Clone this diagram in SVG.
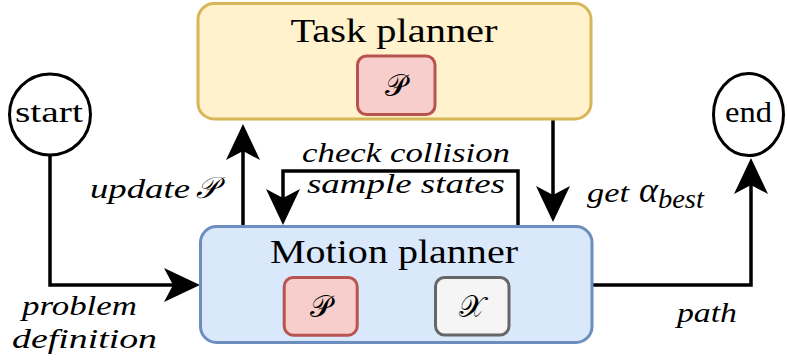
<svg xmlns="http://www.w3.org/2000/svg" width="787" height="360" viewBox="0 0 787 360">
  <style>
    .title { font-size: 34px; fill: #000; text-anchor: middle; }
    .term { font-size: 30px; fill: #000; text-anchor: middle; }
    .lbl { font-style: italic; font-size: 27px; fill: #000; }
    .sym { font-size: 30px; fill: #000; text-anchor: middle; }
    .wire { fill: none; stroke: #000; stroke-width: 3.5; stroke-linejoin: miter; }
    .task { fill: #fff2cc; stroke: #d6b656; stroke-width: 3; }
    .motion { fill: #dae8fc; stroke: #6c8ebf; stroke-width: 3; }
    .prob { fill: #f8cecc; stroke: #b85450; stroke-width: 3; }
    .space { fill: #f5f5f5; stroke: #666666; stroke-width: 3; }
    .circ { fill: #fff; stroke: #000; stroke-width: 3; }
  </style>
  <defs>
    <marker id="arrow" viewBox="0 0 36 34" refX="16" refY="17" markerWidth="36" markerHeight="34" markerUnits="userSpaceOnUse" orient="auto">
      <path d="M0,0 L36,17 L0,34 L9,17 Z" fill="#000"/>
    </marker>
  </defs>

  <!-- connectors -->
  <g id="connectors">
    <path class="wire" d="M50,156 V285 H180" marker-end="url(#arrow)"/>
    <path class="wire" d="M243,226 V144" marker-end="url(#arrow)"/>
    <path class="wire" d="M553,120 V202" marker-end="url(#arrow)"/>
    <path class="wire" d="M518,226 V171 H283 V205" marker-end="url(#arrow)"/>
    <path class="wire" d="M593,285 H751 V178" marker-end="url(#arrow)"/>
  </g>

  <!-- edge labels -->
  <g id="labels" font-family="Liberation Serif, serif">
    <text class="lbl" x="90" y="198"><tspan textLength="100" lengthAdjust="spacingAndGlyphs">update</tspan><tspan class="sym" dx="6" font-size="26" text-anchor="start">𝒫</tspan></text>
    <text class="lbl" x="302" y="162" textLength="208" lengthAdjust="spacingAndGlyphs">check collision</text>
    <text class="lbl" x="307" y="193" textLength="198" lengthAdjust="spacingAndGlyphs">sample states</text>
    <text class="lbl" x="587" y="202"><tspan textLength="42" lengthAdjust="spacingAndGlyphs">get</tspan><tspan dx="10" font-size="36">α</tspan><tspan dy="6" textLength="46" lengthAdjust="spacingAndGlyphs">best</tspan></text>
    <text class="lbl" x="22" y="315" textLength="115" lengthAdjust="spacingAndGlyphs">problem</text>
    <text class="lbl" x="12" y="348" textLength="145" lengthAdjust="spacingAndGlyphs">definition</text>
    <text class="lbl" x="677" y="322" textLength="60" lengthAdjust="spacingAndGlyphs">path</text>
  </g>

  <g id="start" font-family="Liberation Serif, serif">
    <circle class="circ" cx="50" cy="114.5" r="40.5"/>
    <text class="term" x="49" y="122" textLength="68" lengthAdjust="spacingAndGlyphs">start</text>
  </g>

  <g id="end" font-family="Liberation Serif, serif">
    <ellipse class="circ" cx="748.5" cy="114.5" rx="35" ry="41"/>
    <text class="term" x="748.5" y="122" textLength="47" lengthAdjust="spacingAndGlyphs">end</text>
  </g>

  <g id="task-planner" font-family="Liberation Serif, serif">
    <rect class="task" x="198" y="3.5" width="393" height="115.5" rx="16"/>
    <text class="title" x="394" y="42" textLength="207" lengthAdjust="spacingAndGlyphs">Task planner</text>
    <rect class="prob" x="357.5" y="56" width="77.5" height="58.5" rx="9"/>
    <text class="sym" x="396" y="96">𝒫</text>
  </g>

  <g id="motion-planner" font-family="Liberation Serif, serif">
    <rect class="motion" x="200.5" y="226.5" width="391.5" height="116" rx="16"/>
    <text class="title" x="394" y="263" textLength="248" lengthAdjust="spacingAndGlyphs">Motion planner</text>
    <rect class="prob" x="284.2" y="277.5" width="73" height="57.7" rx="9"/>
    <text class="sym" x="320.7" y="317">𝒫</text>
    <rect class="space" x="435.5" y="277.5" width="73.5" height="57.5" rx="9"/>
    <text class="sym" x="472" y="317">𝒳</text>
  </g>
</svg>
